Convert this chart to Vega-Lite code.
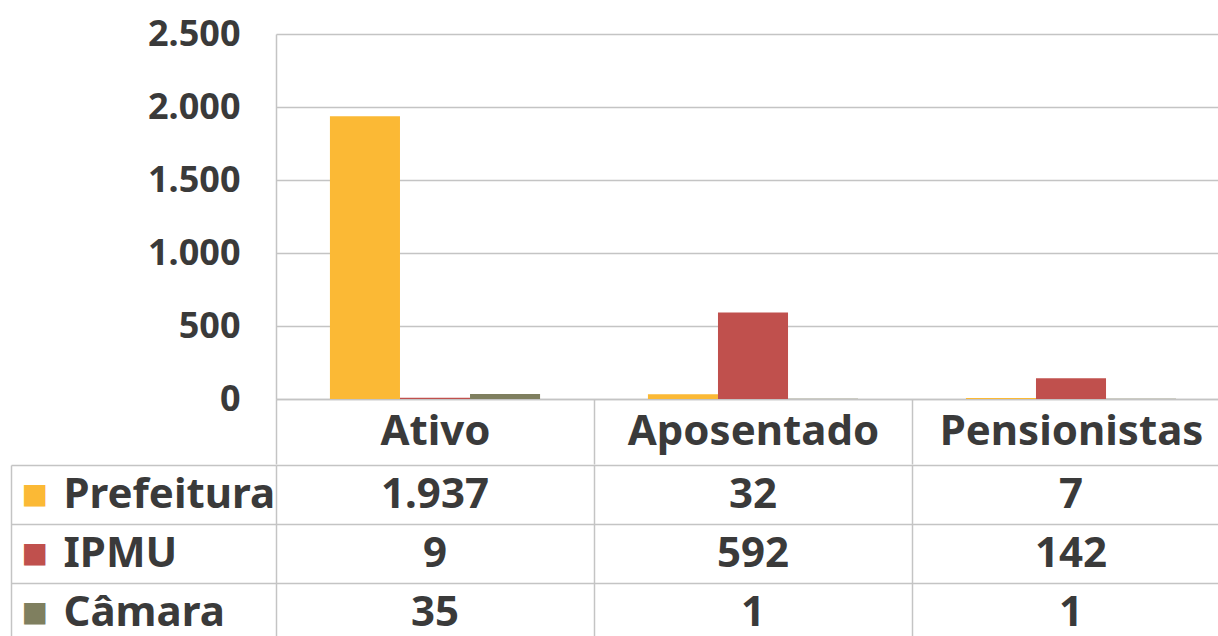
{
  "$schema": "https://vega.github.io/schema/vega-lite/v6.json",
  "padding": {"left": 10, "top": 16, "right": 0, "bottom": 0},
  "background": "white",
  "spacing": -22,
  "config": {
    "view": {"stroke": null},
    "font": "Noto Sans",
    "locale": {"number": {"decimal": ",", "thousands": ".", "grouping": [3], "currency": ["R$", ""]}},
    "axis": {"title": null, "labelLimit": 0}
  },
  "datasets": {
    "d": [
      {"categoria": "Ativo", "serie": "Prefeitura", "valor": 1937},
      {"categoria": "Ativo", "serie": "IPMU", "valor": 9},
      {"categoria": "Ativo", "serie": "Câmara", "valor": 35},
      {"categoria": "Aposentado", "serie": "Prefeitura", "valor": 32},
      {"categoria": "Aposentado", "serie": "IPMU", "valor": 592},
      {"categoria": "Aposentado", "serie": "Câmara", "valor": 1},
      {"categoria": "Pensionistas", "serie": "Prefeitura", "valor": 7},
      {"categoria": "Pensionistas", "serie": "IPMU", "valor": 142},
      {"categoria": "Pensionistas", "serie": "Câmara", "valor": 1}
    ]
  },
  "vconcat": [
    {
      "width": 954,
      "height": 365,
      "data": {"name": "d"},
      "mark": {"type": "bar"},
      "encoding": {
        "x": {
          "field": "categoria", "type": "nominal",
          "sort": ["Ativo", "Aposentado", "Pensionistas"],
          "scale": {"paddingInner": 0, "paddingOuter": 0},
          "axis": {
            "orient": "bottom", "title": null, "grid": false,
            "domain": true, "domainColor": "#C4C4C4", "domainWidth": 1.5,
            "ticks": true, "tickBand": "extent", "tickSize": 65, "tickColor": "#C4C4C4", "tickWidth": 1.5,
            "labelAngle": 0, "labelFont": "Noto Sans", "labelFontSize": 42, "labelFontWeight": "bold",
            "labelColor": "#3A3A3A", "labelBaseline": "top", "labelPadding": -53, "labelLimit": 0
          }
        },
        "xOffset": {
          "field": "serie", "type": "nominal",
          "sort": ["Prefeitura", "IPMU", "Câmara"],
          "scale": {"paddingInner": 0, "paddingOuter": 0.77}
        },
        "y": {
          "field": "valor", "type": "quantitative",
          "scale": {"domain": [0, 2500], "nice": false},
          "axis": {
            "title": null, "values": [0, 500, 1000, 1500, 2000, 2500], "format": ",d",
            "domain": true, "domainColor": "#C4C4C4", "domainWidth": 1.5,
            "ticks": false, "tickSize": 0,
            "grid": true, "gridColor": "#C4C4C4", "gridWidth": 1.5,
            "labelFont": "Noto Sans", "labelFontSize": 36, "labelFontWeight": "bold",
            "labelColor": "#3A3A3A", "labelPadding": 36
          }
        },
        "color": {
          "field": "serie", "type": "nominal",
          "scale": {"domain": ["Prefeitura", "IPMU", "Câmara"], "range": ["#FBB935", "#C0504D", "#7F7F5F"]},
          "legend": null
        }
      }
    },
    {
      "width": 954,
      "height": 177,
      "data": {"name": "d"},
      "resolve": {"scale": {"y": "independent"}},
      "layer": [
        {
          "mark": {"type": "text", "fontSize": 42, "fontWeight": "bold", "color": "#3A3A3A", "font": "Noto Sans", "baseline": "middle"},
          "encoding": {
            "x": {
              "field": "categoria", "type": "nominal",
              "sort": ["Ativo", "Aposentado", "Pensionistas"],
              "scale": {"paddingInner": 0, "paddingOuter": 0},
              "axis": {"title": null, "labels": false, "ticks": false, "domain": false, "grid": true, "tickBand": "extent", "gridColor": "#C4C4C4", "gridWidth": 1.5}
            },
            "y": {
              "field": "serie", "type": "nominal",
              "sort": ["Prefeitura", "IPMU", "Câmara"],
              "scale": {"paddingInner": 0, "paddingOuter": 0},
              "axis": {
                "orient": "left", "title": null, "domain": false,
                "grid": true, "gridColor": "#C4C4C4", "gridWidth": 1.5,
                "tickBand": "extent", "ticks": true, "tickSize": 265, "tickColor": "#C4C4C4", "tickWidth": 1.5,
                "labelAlign": "left", "labelPadding": -52, "labelLimit": 0,
                "labelFont": "Noto Sans", "labelFontSize": 42, "labelFontWeight": "bold", "labelColor": "#3A3A3A"
              }
            },
            "text": {"field": "valor", "type": "quantitative", "format": ","}
          }
        },
        {
          "mark": {"type": "point", "opacity": 0},
          "encoding": {
            "y": {
              "field": "serie", "type": "nominal",
              "sort": ["Prefeitura", "IPMU", "Câmara"],
              "scale": {"paddingInner": 0, "paddingOuter": 0},
              "axis": {
                "orient": "left", "title": null, "offset": 265,
                "domain": true, "domainColor": "#C4C4C4", "domainWidth": 1.5,
                "ticks": false, "tickSize": 0, "grid": false,
                "labelExpr": "'■'", "labelFont": "DejaVu Sans", "labelFontSize": 28,
                "labelAlign": "left", "labelPadding": -10,
                "labelColor": {"condition": [{"test": "datum.value === 'Prefeitura'", "value": "#FBB935"}, {"test": "datum.value === 'IPMU'", "value": "#C0504D"}], "value": "#7F7F5F"}
              }
            }
          }
        }
      ]
    }
  ]
}
